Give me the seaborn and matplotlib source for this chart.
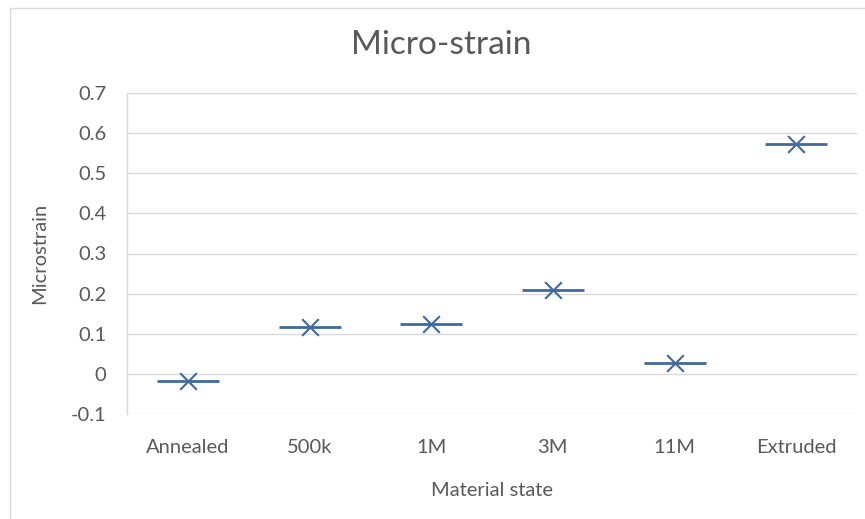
import matplotlib
matplotlib.use("Agg")
import matplotlib.pyplot as plt
from matplotlib.patches import Rectangle
import seaborn as sns
import pandas as pd

categories = ["Annealed", "500k", "1M", "3M", "11M", "Extruded"]
microstrain = [-0.018, 0.117, 0.125, 0.21, 0.028, 0.573]
y_ticks = [-0.1, 0, 0.1, 0.2, 0.3, 0.4, 0.5, 0.6, 0.7]
y_tick_labels = ["-0.1", "0", "0.1", "0.2", "0.3", "0.4", "0.5", "0.6", "0.7"]

df = pd.DataFrame({"state": categories, "value": microstrain})

sns.set_theme(style="white")
plt.rcParams["font.family"] = ["Lato", "DejaVu Sans"]

text_color = "#595959"
grid_color = "#d9d9d9"
mark_color = "#41699b"

W, H = 865, 519
fig = plt.figure(figsize=(W / 100, H / 100), dpi=100)

# outer chart frame
fig.patches.append(Rectangle((10 / W, -0.1), 1.2, 1 - 8 / H + 0.1,
                             transform=fig.transFigure, fill=False,
                             edgecolor=grid_color, linewidth=1.0))

ax = fig.add_axes([127 / W, 1 - 414 / H, (857 - 127) / W, (414 - 93) / H])

# horizontal dash plus cross marker per state
sns.scatterplot(data=df, x="state", y="value", marker="_", s=44 ** 2,
                color=mark_color, linewidth=2.0, ax=ax, zorder=3)
sns.scatterplot(data=df, x="state", y="value", marker="x", s=12 ** 2,
                color=mark_color, linewidth=1.5, ax=ax, zorder=4)

ax.set_xlim(-0.5, len(categories) - 0.5)
ax.set_ylim(-0.1, 0.7)
ax.set_yticks(y_ticks)
ax.set_yticklabels(y_tick_labels)
ax.yaxis.grid(True, color=grid_color, linewidth=1.0)
ax.set_axisbelow(True)

for s in ["top", "right", "bottom"]:
    ax.spines[s].set_visible(False)
ax.spines["left"].set_color(grid_color)
ax.spines["left"].set_linewidth(1.0)

ax.tick_params(axis="both", length=0, labelsize=14.5, colors=text_color)
ax.tick_params(axis="y", pad=15)
ax.tick_params(axis="x", pad=18)

ax.set_xlabel("Material state", fontsize=14.5, color=text_color, labelpad=19)
ax.set_ylabel("Microstrain", fontsize=14.5, color=text_color, labelpad=16)

fig.text(0.51, 1 - 45 / H, "Micro-strain", ha="center", va="center",
         fontsize=24, color=text_color)

fig.savefig("out.png", dpi=100)
